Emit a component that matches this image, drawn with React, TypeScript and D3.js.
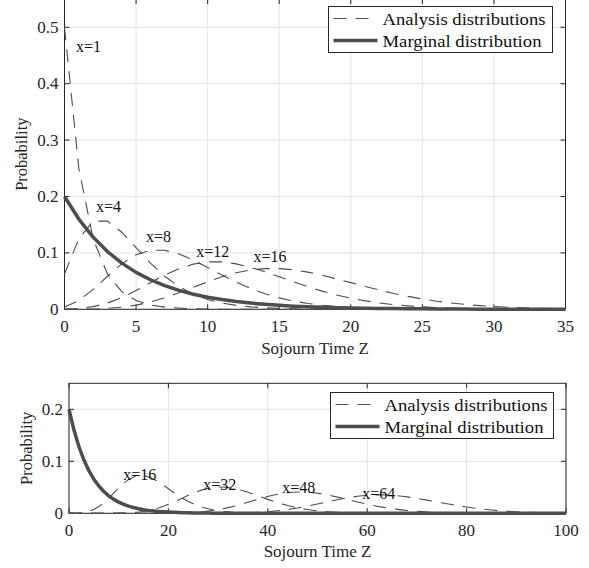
import React from 'react';
import * as d3 from 'd3';

// Sojourn time index (z = 0..100)
const Z_ALL: number[] = d3.range(0, 101);

// Analysis distributions, top panel only (z = 0..35)
const dist1 = [
  0.5, 0.25, 0.125, 0.0625, 0.0313, 0.0156, 0.0078, 0.0039, 0.002, 0.001,
  0.0005, 0.0002, 0.0001, 0.0001, 0, 0, 0, 0, 0, 0,
  0, 0, 0, 0, 0, 0, 0, 0, 0, 0,
  0, 0, 0, 0, 0, 0,
];
const dist4 = [
  0.0625, 0.125, 0.1563, 0.1563, 0.1367, 0.1094, 0.082, 0.0586, 0.0403, 0.0269,
  0.0175, 0.0111, 0.0069, 0.0043, 0.0026, 0.0016, 0.0009, 0.0005, 0.0003, 0.0002,
  0.0001, 0, 0, 0, 0, 0, 0, 0, 0, 0,
  0, 0, 0, 0, 0, 0,
];
const dist8 = [
  0.0039, 0.0156, 0.0352, 0.0586, 0.0806, 0.0967, 0.1047, 0.1047, 0.0982, 0.0873,
  0.0742, 0.0607, 0.0481, 0.037, 0.0277, 0.0203, 0.0146, 0.0103, 0.0072, 0.0049,
  0.0033, 0.0022, 0.0015, 0.001, 0.0006, 0.0004, 0.0003, 0.0002, 0.0001, 0,
  0, 0, 0, 0, 0, 0,
];
const dist12 = [
  0.0002, 0.0015, 0.0048, 0.0111, 0.0208, 0.0333, 0.0472, 0.0607, 0.0721, 0.0801,
  0.0841, 0.0841, 0.0806, 0.0744, 0.0664, 0.0576, 0.0486, 0.04, 0.0322, 0.0254,
  0.0197, 0.015, 0.0113, 0.0083, 0.0061, 0.0044, 0.0031, 0.0022, 0.0015, 0.0011,
  0.0007, 0.0005, 0.0003, 0.0002, 0.0001, 0.0001,
];

// Distributions shared by both panels (z = 0..100)
const dist16 = [
  0, 0.0001, 0.0005, 0.0016, 0.0037, 0.0074, 0.0129, 0.0203, 0.0292, 0.039,
  0.0487, 0.0576, 0.0648, 0.0697, 0.0722, 0.0722, 0.07, 0.0659, 0.0604, 0.054,
  0.0473, 0.0405, 0.0341, 0.0281, 0.0229, 0.0183, 0.0144, 0.0112, 0.0086, 0.0065,
  0.0049, 0.0036, 0.0027, 0.0019, 0.0014, 0.001, 0.0007, 0.0005, 0.0003, 0.0002,
  0.0002, 0.0001, 0.0001, 0, 0, 0, 0, 0, 0, 0,
  0, 0, 0, 0, 0, 0, 0, 0, 0, 0,
  0, 0, 0, 0, 0, 0, 0, 0, 0, 0,
  0, 0, 0, 0, 0, 0, 0, 0, 0, 0,
  0, 0, 0, 0, 0, 0, 0, 0, 0, 0,
  0, 0, 0, 0, 0, 0, 0, 0, 0, 0,
  0,
];
const dist32 = [
  0, 0, 0, 0, 0, 0, 0, 0, 0.0001, 0.0001,
  0.0003, 0.0005, 0.0009, 0.0015, 0.0024, 0.0036, 0.0053, 0.0075, 0.0103, 0.0135,
  0.0172, 0.0213, 0.0257, 0.0301, 0.0345, 0.0387, 0.0424, 0.0455, 0.048, 0.0496,
  0.0505, 0.0505, 0.0497, 0.0482, 0.046, 0.0434, 0.0404, 0.0371, 0.0337, 0.0302,
  0.0268, 0.0236, 0.0205, 0.0176, 0.015, 0.0127, 0.0106, 0.0088, 0.0073, 0.0059,
  0.0048, 0.0039, 0.0031, 0.0024, 0.0019, 0.0015, 0.0012, 0.0009, 0.0007, 0.0005,
  0.0004, 0.0003, 0.0002, 0.0002, 0.0001, 0.0001, 0, 0, 0, 0,
  0, 0, 0, 0, 0, 0, 0, 0, 0, 0,
  0, 0, 0, 0, 0, 0, 0, 0, 0, 0,
  0, 0, 0, 0, 0, 0, 0, 0, 0, 0,
  0,
];
const dist48 = [
  0, 0, 0, 0, 0, 0, 0, 0, 0, 0,
  0, 0, 0, 0, 0, 0, 0, 0, 0.0001, 0.0001,
  0.0002, 0.0003, 0.0005, 0.0008, 0.0011, 0.0016, 0.0023, 0.0031, 0.0042, 0.0055,
  0.007, 0.0088, 0.0109, 0.0132, 0.0157, 0.0184, 0.0212, 0.0241, 0.0269, 0.0297,
  0.0323, 0.0346, 0.0367, 0.0384, 0.0397, 0.0406, 0.041, 0.041, 0.0406, 0.0398,
  0.0386, 0.0371, 0.0353, 0.0333, 0.0311, 0.0289, 0.0266, 0.0242, 0.0219, 0.0197,
  0.0176, 0.0155, 0.0137, 0.0119, 0.0103, 0.0089, 0.0076, 0.0065, 0.0055, 0.0046,
  0.0039, 0.0032, 0.0026, 0.0022, 0.0018, 0.0014, 0.0012, 0.0009, 0.0008, 0.0006,
  0.0005, 0.0004, 0.0003, 0.0002, 0.0002, 0.0001, 0.0001, 0.0001, 0, 0,
  0, 0, 0, 0, 0, 0, 0, 0, 0, 0,
  0,
];
const dist64 = [
  0, 0, 0, 0, 0, 0, 0, 0, 0, 0,
  0, 0, 0, 0, 0, 0, 0, 0, 0, 0,
  0, 0, 0, 0, 0, 0, 0, 0, 0, 0.0001,
  0.0001, 0.0002, 0.0003, 0.0004, 0.0005, 0.0007, 0.001, 0.0013, 0.0018, 0.0023,
  0.003, 0.0038, 0.0048, 0.0059, 0.0072, 0.0086, 0.0102, 0.0119, 0.0138, 0.0158,
  0.0178, 0.0199, 0.022, 0.0241, 0.0261, 0.028, 0.0298, 0.0313, 0.0327, 0.0338,
  0.0346, 0.0352, 0.0355, 0.0355, 0.0352, 0.0347, 0.0339, 0.0329, 0.0316, 0.0303,
  0.0288, 0.0271, 0.0254, 0.0237, 0.0219, 0.0202, 0.0185, 0.0168, 0.0152, 0.0136,
  0.0122, 0.0108, 0.0096, 0.0084, 0.0074, 0.0064, 0.0056, 0.0048, 0.0041, 0.0035,
  0.003, 0.0025, 0.0021, 0.0018, 0.0015, 0.0012, 0.001, 0.0008, 0.0007, 0.0006,
  0.0005,
];
const marginal = [
  0.2, 0.16, 0.128, 0.1024, 0.0819, 0.0655, 0.0524, 0.0419, 0.0336, 0.0268,
  0.0215, 0.0172, 0.0137, 0.011, 0.0088, 0.007, 0.0056, 0.0045, 0.0036, 0.0029,
  0.0023, 0.0018, 0.0015, 0.0012, 0.0009, 0.0008, 0.0006, 0.0005, 0.0004, 0.0003,
  0.0002, 0.0002, 0.0002, 0.0001, 0.0001, 0.0001, 0.0001, 0, 0, 0,
  0, 0, 0, 0, 0, 0, 0, 0, 0, 0,
  0, 0, 0, 0, 0, 0, 0, 0, 0, 0,
  0, 0, 0, 0, 0, 0, 0, 0, 0, 0,
  0, 0, 0, 0, 0, 0, 0, 0, 0, 0,
  0, 0, 0, 0, 0, 0, 0, 0, 0, 0,
  0, 0, 0, 0, 0, 0, 0, 0, 0, 0,
  0,
];

// Tick values
const topXTicks = [0, 5, 10, 15, 20, 25, 30, 35];
const topYTicks = [0, 0.1, 0.2, 0.3, 0.4, 0.5];
const botXTicks = [0, 20, 40, 60, 80, 100];
const botYTicks = [0, 0.1, 0.2];

// Curve annotations
const topLabelText = ['x=1', 'x=4', 'x=8', 'x=12', 'x=16'];
const topLabelZ = [0.8, 2.2, 5.7, 9.2, 13.2];
const topLabelP = [0.456, 0.172, 0.119, 0.093, 0.084];
const botLabelText = ['x=16', 'x=32', 'x=48', 'x=64'];
const botLabelZ = [10.9, 27, 42.9, 59];
const botLabelP = [0.064, 0.045, 0.039, 0.027];

const legendNames = ['Analysis distributions', 'Marginal distribution'];

const FONT = 'Liberation Serif';
const LINE_COLOR = '#4d4d4d';
const AXIS_COLOR = '#262626';
const GRID_COLOR = '#e3e3e3';
const DASH = '13,9';

type PanelProps = {
  xDomain: [number, number];
  yDomain: [number, number];
  left: number;
  right: number;
  top: number;
  bottom: number;
  xTicks: number[];
  yTicks: number[];
  dashed: number[][];
  n: number;
  labelText: string[];
  labelZ: number[];
  labelP: number[];
  legend: { x: number; y: number; w: number; h: number };
  yLabelX: number;
  xLabelY: number;
};

const textStyle = { fontFamily: FONT };

function Panel(p: PanelProps) {
  const x = d3.scaleLinear().domain(p.xDomain).range([p.left, p.right]);
  const y = d3.scaleLinear().domain(p.yDomain).range([p.bottom, p.top]);
  const zs = Z_ALL.slice(0, p.n);
  const line = d3
    .line<number>()
    .x((_, i) => x(zs[i]))
    .y((d) => y(d));
  const tick = 5;
  const fmtY = (v: number) => (v === 0 ? '0' : d3.format('.1f')(v));
  const lg = p.legend;
  return (
    <g>
      {p.xTicks.map((t) => (
        <line key={'gx' + t} x1={x(t)} x2={x(t)} y1={p.top} y2={p.bottom} stroke={GRID_COLOR} strokeWidth={1} />
      ))}
      {p.yTicks.map((t) => (
        <line key={'gy' + t} x1={p.left} x2={p.right} y1={y(t)} y2={y(t)} stroke={GRID_COLOR} strokeWidth={1} />
      ))}
      <rect x={p.left} y={p.top} width={p.right - p.left} height={p.bottom - p.top} fill="none" stroke={AXIS_COLOR} strokeWidth={1} />
      {p.xTicks.map((t) => (
        <g key={'tx' + t}>
          <line x1={x(t)} x2={x(t)} y1={p.bottom} y2={p.bottom - tick} stroke={AXIS_COLOR} />
          <line x1={x(t)} x2={x(t)} y1={p.top} y2={p.top + tick} stroke={AXIS_COLOR} />
          <text x={x(t)} y={p.bottom + 23} textAnchor="middle" style={textStyle} fontSize={17} fill="#262626">
            {t}
          </text>
        </g>
      ))}
      {p.yTicks.map((t) => (
        <g key={'ty' + t}>
          <line x1={p.left} x2={p.left + tick} y1={y(t)} y2={y(t)} stroke={AXIS_COLOR} />
          <line x1={p.right} x2={p.right - tick} y1={y(t)} y2={y(t)} stroke={AXIS_COLOR} />
          <text x={p.left - 6} y={y(t) + 5.5} textAnchor="end" style={textStyle} fontSize={17} fill="#262626">
            {fmtY(t)}
          </text>
        </g>
      ))}
      {p.dashed.map((d, i) => (
        <path key={'d' + i} d={line(d.slice(0, p.n)) || ''} fill="none" stroke={LINE_COLOR} strokeWidth={1.1} strokeDasharray={DASH} />
      ))}
      <path d={line(marginal.slice(0, p.n)) || ''} fill="none" stroke={LINE_COLOR} strokeWidth={3.5} strokeLinejoin="round" />
      {p.labelText.map((t, i) => (
        <text key={'l' + i} x={x(p.labelZ[i])} y={y(p.labelP[i])} style={textStyle} fontSize={16} fill="#111">
          {t}
        </text>
      ))}
      <text x={(p.left + p.right) / 2} y={p.xLabelY} textAnchor="middle" style={textStyle} fontSize={17} fill="#262626">
        Sojourn Time Z
      </text>
      <text
        transform={`translate(${p.yLabelX},${(p.top + p.bottom) / 2}) rotate(-90)`}
        textAnchor="middle"
        style={textStyle}
        fontSize={16.5}
        fill="#262626"
      >
        Probability
      </text>
      <rect x={lg.x} y={lg.y} width={lg.w} height={lg.h} fill="#fff" stroke={AXIS_COLOR} strokeWidth={1} />
      <line x1={lg.x + 5} x2={lg.x + 44} y1={lg.y + 12} y2={lg.y + 12} stroke={LINE_COLOR} strokeWidth={1.1} strokeDasharray={DASH} />
      <line x1={lg.x + 5} x2={lg.x + 49} y1={lg.y + 34} y2={lg.y + 34} stroke={LINE_COLOR} strokeWidth={3.5} />
      <text x={lg.x + 54} y={lg.y + 18} style={textStyle} fontSize={17.5} fill="#111" textLength={163} lengthAdjust="spacingAndGlyphs">
        {legendNames[0]}
      </text>
      <text x={lg.x + 54} y={lg.y + 40} style={textStyle} fontSize={17.5} fill="#111" textLength={159} lengthAdjust="spacingAndGlyphs">
        {legendNames[1]}
      </text>
    </g>
  );
}

export default function App() {
  return (
    <svg width={589} height={568} style={{ position: 'absolute', left: 0, top: 0, background: '#fff' }}>
      <rect x={0} y={0} width={589} height={568} fill="#fff" />
      <Panel
        xDomain={[0, 35]}
        yDomain={[0, 0.55]}
        left={64.5}
        right={565.5}
        top={-0.9}
        bottom={309.3}
        xTicks={topXTicks}
        yTicks={topYTicks}
        dashed={[dist1, dist4, dist8, dist12, dist16]}
        n={36}
        labelText={topLabelText}
        labelZ={topLabelZ}
        labelP={topLabelP}
        legend={{ x: 328.5, y: 6.5, w: 224, h: 46 }}
        yLabelX={27}
        xLabelY={354}
      />
      <Panel
        xDomain={[0, 100]}
        yDomain={[0, 0.25]}
        left={69}
        right={566}
        top={383.3}
        bottom={513.3}
        xTicks={botXTicks}
        yTicks={botYTicks}
        dashed={[dist16, dist32, dist48, dist64]}
        n={101}
        labelText={botLabelText}
        labelZ={botLabelZ}
        labelP={botLabelP}
        legend={{ x: 330.5, y: 392.5, w: 223, h: 46 }}
        yLabelX={32}
        xLabelY={557}
      />
    </svg>
  );
}
